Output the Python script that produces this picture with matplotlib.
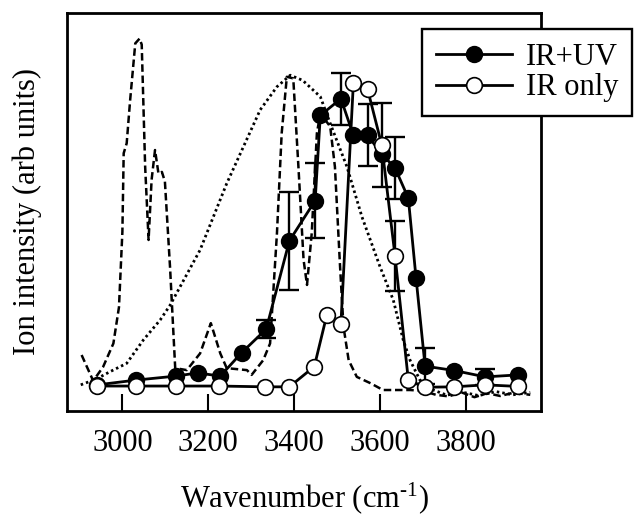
import numpy as np
import matplotlib
matplotlib.use("Agg")
import matplotlib.pyplot as plt

plt.rcParams['font.family'] = ['Liberation Serif', 'DejaVu Serif']
plt.rcParams['mathtext.fontset'] = 'custom'
plt.rcParams['mathtext.rm'] = 'Liberation Serif'
plt.rcParams['mathtext.it'] = 'Liberation Serif:italic'
plt.rcParams['font.size'] = 22

# IR+UV (filled)
uv_x = [2942, 3032, 3125, 3175, 3228, 3278, 3335, 3389, 3449, 3461, 3509,
        3538, 3571, 3604, 3635, 3666, 3684, 3705, 3773, 3845, 3922]
uv_y = [0.065, 0.077, 0.087, 0.095, 0.087, 0.146, 0.205, 0.427, 0.528, 0.742,
        0.784, 0.692, 0.692, 0.645, 0.610, 0.534, 0.333, 0.112, 0.101, 0.085, 0.090]
uv_err = [0, 0, 0, 0, 0, 0, 0.023, 0.123, 0.095, 0, 0.065,
          0, 0.078, 0, 0.078, 0, 0, 0.045, 0, 0.020, 0]

# IR only (open)
ir_x = [2942, 3032, 3125, 3226, 3332, 3389, 3447, 3476, 3509, 3538, 3571,
        3604, 3635, 3666, 3705, 3773, 3845, 3922]
ir_y = [0.062, 0.062, 0.062, 0.062, 0.060, 0.060, 0.111, 0.240, 0.219, 0.823,
        0.808, 0.668, 0.389, 0.077, 0.059, 0.060, 0.065, 0.061]
ir_err = [0, 0, 0, 0, 0, 0, 0, 0, 0, 0, 0, 0.105, 0.088, 0, 0, 0, 0, 0]

# dashed spectrum
dash_x = [2905, 2932, 2955, 2979, 2992, 3000, 3003, 3010, 3018, 3030, 3040, 3045,
          3053, 3061, 3068, 3076, 3084, 3092, 3099, 3111, 3123, 3150, 3181,
          3206, 3228, 3243, 3290, 3301, 3328, 3344, 3360, 3371, 3383, 3398,
          3410, 3422, 3430, 3441, 3453, 3461, 3484, 3495, 3507, 3515, 3527,
          3546, 3578, 3607, 3670, 3700, 3730, 3760, 3790, 3820, 3850, 3880,
          3910, 3950]
dash_y = [0.140, 0.075, 0.110, 0.169, 0.26, 0.45, 0.647, 0.672, 0.78, 0.923, 0.935, 0.92,
          0.613, 0.429, 0.58, 0.655, 0.596, 0.60, 0.576, 0.36, 0.107, 0.102, 0.144,
          0.220, 0.144, 0.107, 0.102, 0.090, 0.127, 0.169, 0.446, 0.697, 0.839, 0.835,
          0.613, 0.379, 0.316, 0.446, 0.697, 0.747, 0.714, 0.613, 0.362, 0.211, 0.127,
          0.085, 0.069, 0.052, 0.052, 0.050, 0.040, 0.036, 0.046, 0.034, 0.044, 0.037,
          0.045, 0.040]

# dotted spectrum
dot_x = [2903, 2940, 2971, 3010, 3049, 3088, 3111, 3181, 3243, 3321, 3360, 3391,
         3420, 3461, 3484, 3523, 3558, 3600, 3631, 3654, 3670, 3693, 3724, 3756,
         3790, 3830, 3870, 3910, 3950]
dot_y = [0.065, 0.080, 0.098, 0.119, 0.178, 0.228, 0.265, 0.404, 0.571, 0.756, 0.814,
         0.843, 0.83, 0.789, 0.722, 0.613, 0.487, 0.362, 0.278, 0.178, 0.127, 0.077,
         0.052, 0.039, 0.047, 0.038, 0.048, 0.040, 0.046]

fig = plt.figure(figsize=(6.34, 5.15), dpi=100)
ax = fig.add_axes([0.1057, 0.2025, 0.7476, 0.7728])

ax.plot(dash_x, dash_y, color='black', lw=1.8, dashes=(3.0, 1.5), zorder=1)
ax.plot(dot_x, dot_y, color='black', lw=2.0, dashes=(0.9, 1.1), zorder=1)

uv_x = np.array(uv_x); uv_y = np.array(uv_y); uv_err = np.array(uv_err)
ir_x = np.array(ir_x); ir_y = np.array(ir_y); ir_err = np.array(ir_err)

m = uv_err > 0
ax.errorbar(uv_x[m], uv_y[m], yerr=uv_err[m], fmt='none', ecolor='black',
            elinewidth=1.7, capsize=7.5, capthick=1.7, zorder=2)
m = ir_err > 0
ax.errorbar(ir_x[m], ir_y[m], yerr=ir_err[m], fmt='none', ecolor='black',
            elinewidth=1.7, capsize=7.5, capthick=1.7, zorder=2)

ax.plot(uv_x, uv_y, color='black', lw=2.0, marker='o', ms=11.3,
        mfc='black', mec='black', mew=1.2, label='IR+UV', zorder=3)
ax.plot(ir_x, ir_y, color='black', lw=2.0, marker='o', ms=11.3,
        mfc='white', mec='black', mew=1.2, label='IR only', zorder=4)

ax.set_xlim(2871, 3975)
ax.set_ylim(0, 1)
ax.set_xticks([3000, 3200, 3400, 3600, 3800])
ax.set_yticks([])
ax.tick_params(axis='x', direction='in', length=12, width=1.5, pad=13,
               labelsize=22)
for s in ax.spines.values():
    s.set_linewidth(2)

ax.set_xlabel(r'Wavenumber (cm$^{\text{-}1}$)', fontsize=22, labelpad=16)
ax.set_ylabel('Ion intensity (arb units)', fontsize=22, labelpad=18)

leg = ax.legend(loc='upper left', bbox_to_anchor=(422 / 634, 1 - 29 / 515),
                bbox_transform=fig.transFigure, borderaxespad=0,
                fancybox=False, framealpha=1, edgecolor='black',
                handlelength=2.5, handletextpad=0.45, borderpad=0.45,
                labelspacing=0.05, fontsize=22)
leg.get_frame().set_linewidth(1.7)

fig.savefig('out.png', dpi=100)
